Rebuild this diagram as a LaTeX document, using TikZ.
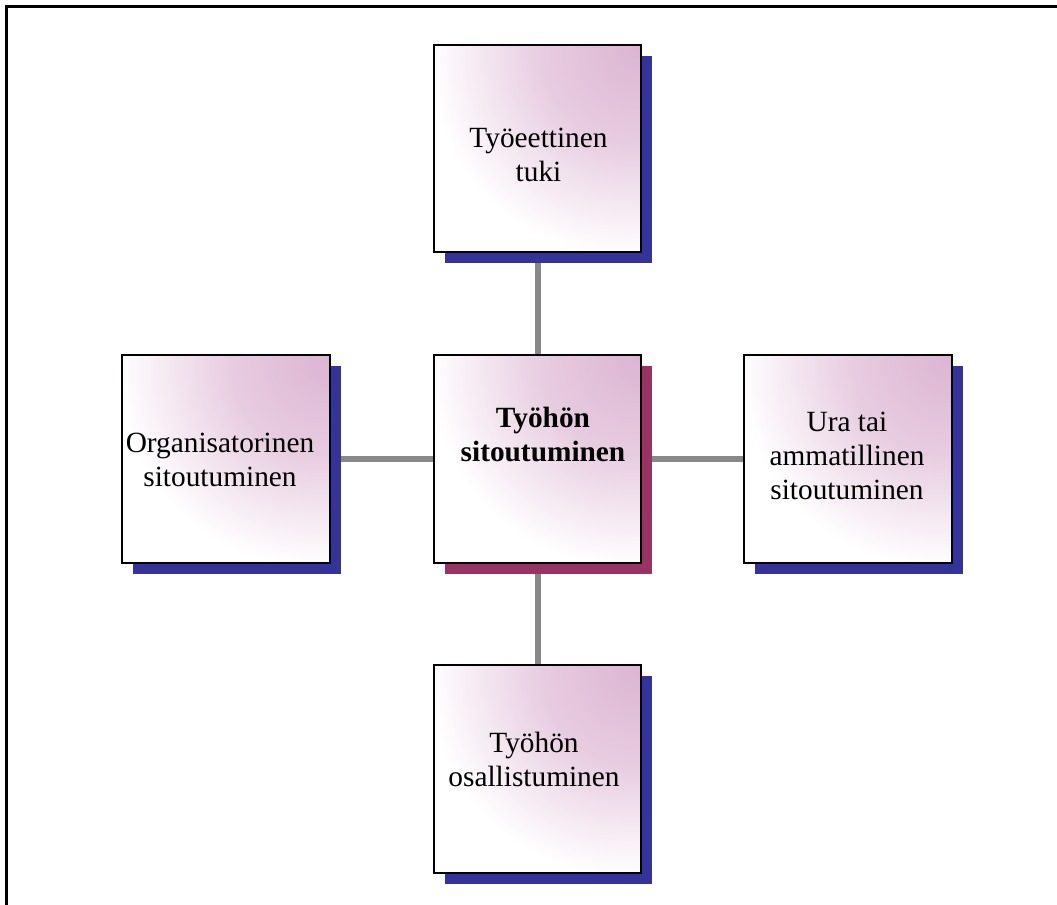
\documentclass[tikz,border=0pt]{standalone}
\usepackage{fontspec}
\setmainfont{Liberation Serif}
\usetikzlibrary{backgrounds}
\definecolor{pk}{RGB}{220,180,210}
\definecolor{shblue}{RGB}{51,51,153}
\definecolor{shred}{RGB}{153,51,102}
\definecolor{connc}{RGB}{136,136,136}
\pgfdeclareradialshading{boxshade}{\pgfpoint{25bp}{25bp}}{color(0bp)=(pk); color(22bp)=(pk!68!white); color(47bp)=(white); color(300bp)=(white)}
\begin{document}
\begin{tikzpicture}[x=0.75pt,y=-0.75pt,
  box/.style={draw=black,line width=1.5pt,shade,shading=boxshade,minimum width=155.5pt,minimum height=155.5pt,inner sep=0pt,outer sep=0pt},
  lbl/.style={anchor=north,inner sep=0pt,align=center,font=\fontsize{22}{25.5}\selectfont},
  lblb/.style={lbl,font=\fontsize{22}{25.5}\selectfont\bfseries},
  conn/.style={draw=connc,line width=4.5pt},
  frameline/.style={line width=1.6pt,draw=black},
  shb/.style={fill=shblue},
  shr/.style={fill=shred}]
\useasboundingbox (0,0) rectangle (1057,905);
% frame (only the left and top sides lie inside the picture)
\coordinate (fa) at (6.5,905);
\coordinate (fb) at (6.5,6.5);
\coordinate (fc) at (1057,6.5);
\draw[frameline] (fa) -- (fb) -- (fc);
% boxes
\node[box] (top) at (537.5,148.5) {};
\node[box] (ctr) at (537.5,459) {};
\node[box] (lft) at (226,459) {};
\node[box] (rgt) at (848,459) {};
\node[box] (bot) at (537.5,769) {};
\begin{pgfonlayer}{background}
\draw[conn] (top) -- (ctr);
\draw[conn] (ctr) -- (bot);
\draw[conn] (lft) -- (ctr);
\draw[conn] (ctr) -- (rgt);
\fill[shb] ([shift={(11,11)}]top.north west) rectangle ([shift={(11,11)}]top.south east);
\fill[shr] ([shift={(11,11)}]ctr.north west) rectangle ([shift={(11,11)}]ctr.south east);
\fill[shb] ([shift={(11,11)}]lft.north west) rectangle ([shift={(11,11)}]lft.south east);
\fill[shb] ([shift={(11,11)}]rgt.north west) rectangle ([shift={(11,11)}]rgt.south east);
\fill[shb] ([shift={(11,11)}]bot.north west) rectangle ([shift={(11,11)}]bot.south east);
\end{pgfonlayer}
% labels
\node[lbl] (ttop) at (538.5,128) {Työeettinen\\tuki};
\node[lblb] (tctr) at (543,407) {Työhön\\sitoutuminen};
\node[lbl] (tlft) at (220,433) {Organisatorinen\\sitoutuminen};
\node[lbl] (trgt) at (847,412) {Ura tai\\ammatillinen\\sitoutuminen};
\node[lbl] (tbot) at (534,732) {Työhön\\osallistuminen};
\end{tikzpicture}
\end{document}
